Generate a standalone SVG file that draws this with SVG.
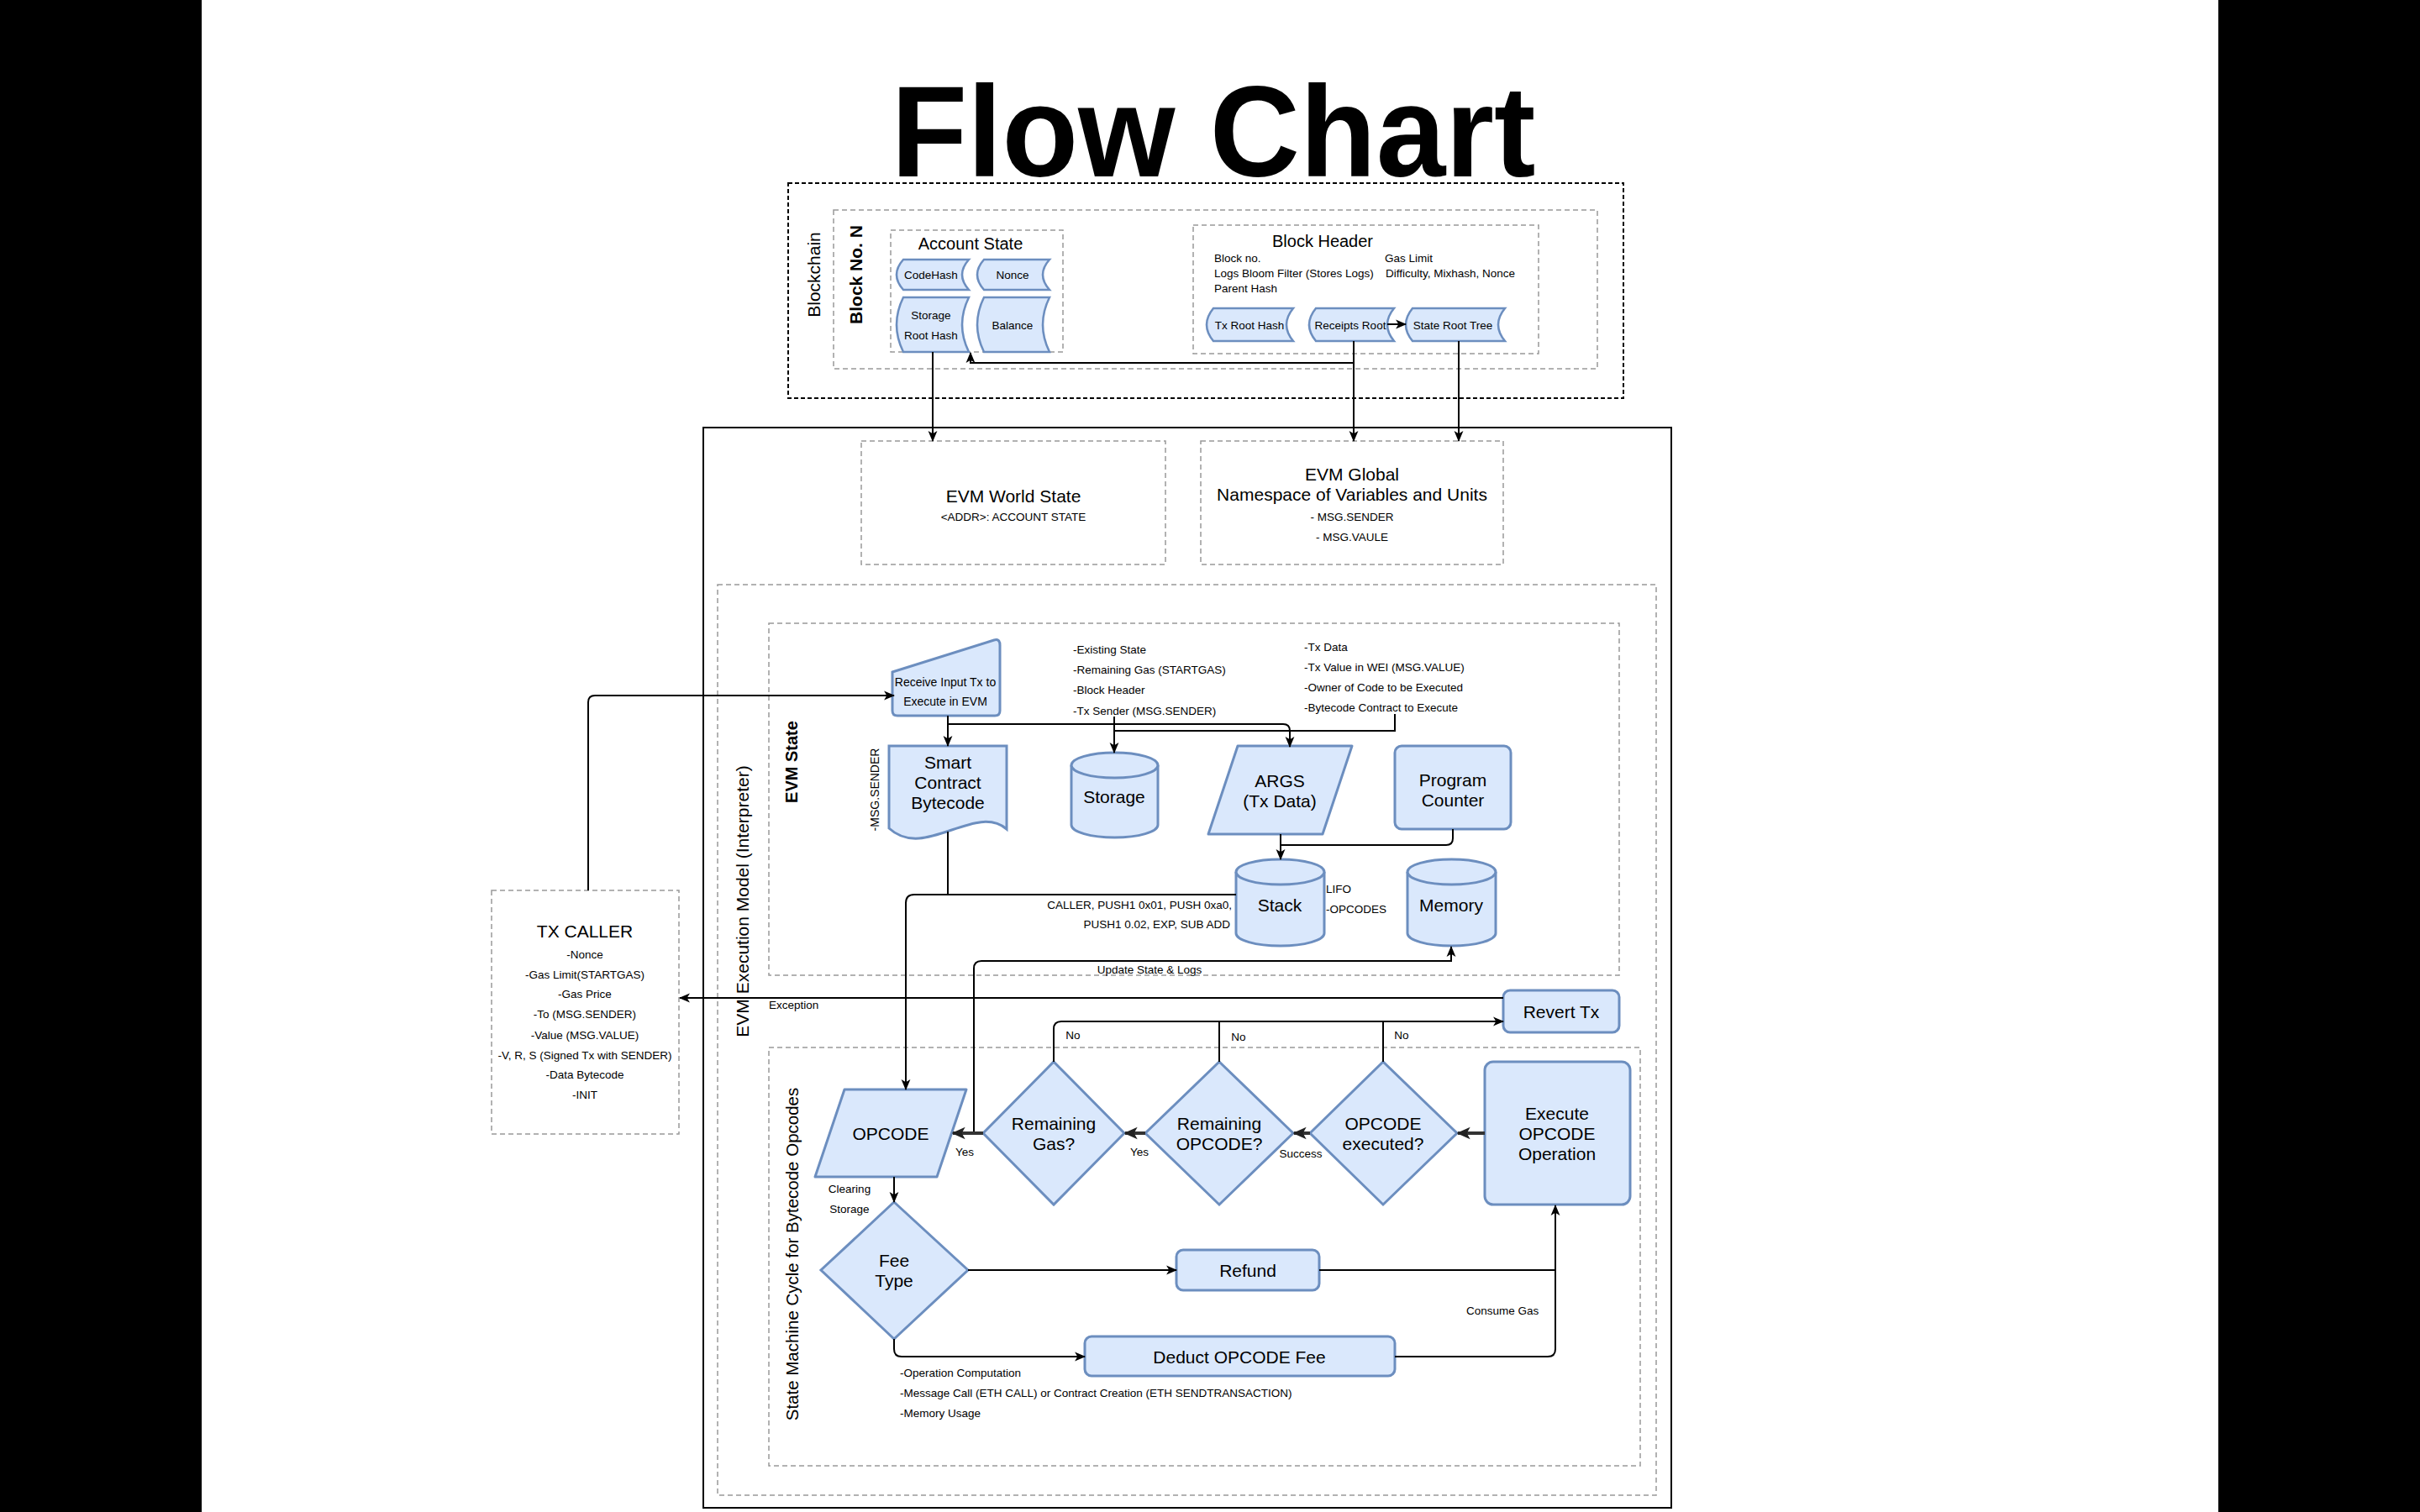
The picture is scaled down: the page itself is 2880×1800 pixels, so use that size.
<svg xmlns="http://www.w3.org/2000/svg" width="2880" height="1800" viewBox="0 0 2880 1800">
<defs>
<style>
.t{font-family:"Liberation Sans",Arial,Helvetica,sans-serif;fill:#000;dominant-baseline:central;text-anchor:middle}
.ts{font-size:13.5px}
.tm{font-size:21px}
.tl{text-anchor:start}
.tr{text-anchor:end}
.node{fill:#dae8fc;stroke:#6c8ebf;stroke-width:3}
.nodes{fill:#dae8fc;stroke:#6c8ebf;stroke-width:2.5}
.grp{fill:none;stroke:#999;stroke-width:1.5;stroke-dasharray:6 4}
.conn{fill:none;stroke:#000;stroke-width:2}
.connT{fill:none;stroke:#333;stroke-width:4}
</style>
<marker id="arr" viewBox="0 0 12 12" refX="11" refY="6" markerWidth="13" markerHeight="13" markerUnits="userSpaceOnUse" orient="auto"><path d="M0,1 L12,6 L0,11 L3,6 Z" fill="#000"/></marker>
<marker id="arrT" viewBox="0 0 12 12" refX="11" refY="6" markerWidth="16" markerHeight="16" markerUnits="userSpaceOnUse" orient="auto"><path d="M0,0.5 L12,6 L0,11.5 L3,6 Z" fill="#222"/></marker>
</defs>
<rect x="0" y="0" width="2880" height="1800" fill="#fff"/>
<rect x="0" y="0" width="240" height="1800" fill="#000"/>
<rect x="2640" y="0" width="240" height="1800" fill="#000"/>

<text class="t" x="1444" y="210" style="font-size:154px;font-weight:bold;dominant-baseline:auto" textLength="767" lengthAdjust="spacingAndGlyphs">Flow Chart</text>

<g id="blockchain">
<rect x="938" y="218" width="994" height="256" fill="none" stroke="#000" stroke-width="2" stroke-dasharray="5 3"/>
<text class="t tm" transform="translate(968,327) rotate(-90)">Blockchain</text>
</g>
<g id="block-no-n">
<rect class="grp" x="992" y="250" width="909" height="189"/>
<text class="t tm" transform="translate(1018,327) rotate(-90)" style="font-weight:bold">Block No. N</text>
</g>
<g id="account-state">
<rect class="grp" x="1060" y="274" width="205" height="145"/>
<text class="t" x="1155" y="290" style="font-size:20px">Account State</text>
</g>
<g id="codehash"><path class="nodes" d="M1075,309 H1153 Q1137,327 1153,345 H1075 Q1059,327 1075,309 Z"/><text class="t ts" x="1108" y="327">CodeHash</text></g>
<g id="nonce"><path class="nodes" d="M1171,309 H1249 Q1233,327 1249,345 H1171 Q1155,327 1171,309 Z"/><text class="t ts" x="1205" y="327">Nonce</text></g>
<g id="storage-root-hash"><path class="nodes" d="M1075,354 H1153 Q1137,386.5 1153,419 H1075 Q1059,386.5 1075,354 Z"/><text class="t ts" x="1108" y="375">Storage</text><text class="t ts" x="1108" y="399">Root Hash</text></g>
<g id="balance"><path class="nodes" d="M1171,354 H1249 Q1233,386.5 1249,419 H1171 Q1155,386.5 1171,354 Z"/><text class="t ts" x="1205" y="387">Balance</text></g>

<g id="block-header">
<rect class="grp" x="1420" y="268" width="411" height="153"/>
<text class="t" x="1574" y="287" style="font-size:20px">Block Header</text>
<text class="t ts tl" x="1445" y="307">Block no.</text>
<text class="t ts tl" x="1648" y="307">Gas Limit</text>
<text class="t ts tl" x="1445" y="325">Logs Bloom Filter (Stores Logs)</text>
<text class="t ts tl" x="1649" y="325">Difficulty, Mixhash, Nonce</text>
<text class="t ts tl" x="1445" y="343">Parent Hash</text>
</g>
<g id="tx-root-hash"><path class="nodes" d="M1444,367 H1539 Q1523,386.5 1539,406 H1444 Q1428,386.5 1444,367 Z"/><text class="t ts" x="1487" y="387">Tx Root Hash</text></g>
<g id="receipts-root"><path class="nodes" d="M1566,367 H1659 Q1643,386.5 1659,406 H1566 Q1550,386.5 1566,367 Z"/><text class="t ts" x="1607" y="387">Receipts Root</text></g>
<g id="state-root-tree"><path class="nodes" d="M1681,367 H1791 Q1775,386.5 1791,406 H1681 Q1665,386.5 1681,367 Z"/><text class="t ts" x="1729" y="387">State Root Tree</text></g>

<g id="evm-execution-model">
<rect x="837" y="509" width="1152" height="1286" fill="none" stroke="#000" stroke-width="2"/>
</g>
<g id="evm-world-state">
<rect class="grp" x="1025" y="525" width="362" height="147"/>
<text class="t tm" x="1206" y="590">EVM World State</text>
<text class="t ts" x="1206" y="615">&lt;ADDR&gt;: ACCOUNT STATE</text>
</g>
<g id="evm-global">
<rect class="grp" x="1429" y="525" width="360" height="147"/>
<text class="t tm" x="1609" y="564">EVM Global</text>
<text class="t tm" x="1609" y="588">Namespace of Variables and Units</text>
<text class="t ts" x="1609" y="615">- MSG.SENDER</text>
<text class="t ts" x="1609" y="639">- MSG.VAULE</text>
</g>
<g id="interpreter">
<rect class="grp" x="854" y="696" width="1117" height="1084"/>
<text class="t tm" transform="translate(883,1073) rotate(-90)">EVM Execution Model (Interpreter)</text>
</g>
<g id="evm-state">
<rect class="grp" x="915" y="742" width="1012" height="419"/>
<text class="t" transform="translate(942,907) rotate(-90)" style="font-size:20px;font-weight:bold">EVM State</text>
</g>
<g id="state-machine">
<rect class="grp" x="915" y="1247" width="1037" height="498"/>
<text class="t" transform="translate(942,1493) rotate(-90)" style="font-size:20.5px">State Machine Cycle for Bytecode Opcodes</text>
</g>

<g id="tx-caller">
<rect class="grp" x="585" y="1060" width="223" height="290"/>
<text class="t tm" x="696" y="1108">TX CALLER</text>
<text class="t ts" x="696" y="1136">-Nonce</text>
<text class="t ts" x="696" y="1160">-Gas Limit(STARTGAS)</text>
<text class="t ts" x="696" y="1183">-Gas Price</text>
<text class="t ts" x="696" y="1207">-To (MSG.SENDER)</text>
<text class="t ts" x="696" y="1232">-Value (MSG.VALUE)</text>
<text class="t ts" x="696" y="1256">-V, R, S (Signed Tx with SENDER)</text>
<text class="t ts" x="696" y="1279">-Data Bytecode</text>
<text class="t ts" x="696" y="1303">-INIT</text>
</g>

<g id="receive-input">
<path class="node" d="M1062,800 L1183,762 Q1190,760 1190,768 V846 Q1190,852 1184,852 H1068 Q1062,852 1062,846 Z"/>
<text class="t" x="1125" y="812" style="font-size:14px">Receive Input Tx to</text>
<text class="t" x="1125" y="835" style="font-size:14px">Execute in EVM</text>
</g>
<g id="existing-state-notes">
<text class="t ts tl" x="1277" y="773">-Existing State</text>
<text class="t ts tl" x="1277" y="797">-Remaining Gas (STARTGAS)</text>
<text class="t ts tl" x="1277" y="821">-Block Header</text>
<text class="t ts tl" x="1277" y="846">-Tx Sender (MSG.SENDER)</text>
</g>
<g id="tx-data-notes">
<text class="t ts tl" x="1552" y="770">-Tx Data</text>
<text class="t ts tl" x="1552" y="794">-Tx Value in WEI (MSG.VALUE)</text>
<text class="t ts tl" x="1552" y="818">-Owner of Code to be Executed</text>
<text class="t ts tl" x="1552" y="842">-Bytecode Contract to Execute</text>
</g>
<g id="smart-contract">
<path class="node" d="M1058,888 H1198 V987 C1160,955 1100,1025 1058,986 Z"/>
<text class="t tm" x="1128" y="907">Smart</text>
<text class="t tm" x="1128" y="931">Contract</text>
<text class="t tm" x="1128" y="955">Bytecode</text>
<text class="t" transform="translate(1041,940) rotate(-90)" style="font-size:14px">-MSG.SENDER</text>
</g>
<g id="storage">
<path class="node" d="M1275,911 A51.5,15 0 0 1 1378,911 V982 A51.5,15 0 0 1 1275,982 Z"/>
<path class="node" d="M1275,911 A51.5,15 0 0 0 1378,911" fill="none"/>
<text class="t tm" x="1326" y="948">Storage</text>
</g>
<g id="args">
<path class="node" d="M1473,888 H1609 L1574,993 H1438 Z" stroke-linejoin="round"/>
<text class="t tm" x="1523" y="929">ARGS</text>
<text class="t tm" x="1523" y="953">(Tx Data)</text>
</g>
<g id="program-counter">
<rect class="node" x="1660" y="888" width="138" height="99" rx="8"/>
<text class="t tm" x="1729" y="928">Program</text>
<text class="t tm" x="1729" y="952">Counter</text>
</g>
<g id="stack">
<path class="node" d="M1471,1038 A52.5,15 0 0 1 1576,1038 V1111 A52.5,15 0 0 1 1471,1111 Z"/>
<path class="node" d="M1471,1038 A52.5,15 0 0 0 1576,1038" fill="none"/>
<text class="t tm" x="1523" y="1077">Stack</text>
<text class="t ts tl" x="1578" y="1058">LIFO</text>
<text class="t ts tl" x="1578" y="1082">-OPCODES</text>
<text class="t ts tr" x="1466" y="1077">CALLER, PUSH1 0x01, PUSH 0xa0,</text>
<text class="t ts tr" x="1464" y="1100">PUSH1 0.02, EXP, SUB ADD</text>
</g>
<g id="memory">
<path class="node" d="M1675,1038 A52.5,15 0 0 1 1780,1038 V1111 A52.5,15 0 0 1 1675,1111 Z"/>
<path class="node" d="M1675,1038 A52.5,15 0 0 0 1780,1038" fill="none"/>
<text class="t tm" x="1727" y="1077">Memory</text>
</g>

<g id="revert-tx">
<rect class="node" x="1789" y="1179" width="138" height="50" rx="8"/>
<text class="t tm" x="1858" y="1204">Revert Tx</text>
</g>
<g id="opcode">
<path class="node" d="M1005,1297 H1150 L1115,1401 H970 Z" stroke-linejoin="round"/>
<text class="t tm" x="1060" y="1349">OPCODE</text>
</g>
<g id="remaining-gas">
<path class="node" d="M1254,1264 L1338,1349 L1254,1434 L1170,1349 Z"/>
<text class="t tm" x="1254" y="1337">Remaining</text>
<text class="t tm" x="1254" y="1361">Gas?</text>
</g>
<g id="remaining-opcode">
<path class="node" d="M1451,1264 L1539,1349 L1451,1434 L1363,1349 Z"/>
<text class="t tm" x="1451" y="1337">Remaining</text>
<text class="t tm" x="1451" y="1361">OPCODE?</text>
</g>
<g id="opcode-executed">
<path class="node" d="M1646,1264 L1734,1349 L1646,1434 L1559,1349 Z"/>
<text class="t tm" x="1646" y="1337">OPCODE</text>
<text class="t tm" x="1646" y="1361">executed?</text>
</g>
<g id="execute-opcode">
<rect class="node" x="1767" y="1264" width="173" height="170" rx="10"/>
<text class="t tm" x="1853" y="1325">Execute</text>
<text class="t tm" x="1853" y="1349">OPCODE</text>
<text class="t tm" x="1853" y="1373">Operation</text>
</g>
<g id="fee-type">
<path class="node" d="M1064,1431 L1152,1512 L1064,1594 L977,1512 Z"/>
<text class="t tm" x="1064" y="1500">Fee</text>
<text class="t tm" x="1064" y="1524">Type</text>
</g>
<g id="refund">
<rect class="node" x="1400" y="1488" width="170" height="48" rx="8"/>
<text class="t tm" x="1485" y="1512">Refund</text>
</g>
<g id="deduct-fee">
<rect class="node" x="1291" y="1591" width="369" height="47" rx="8"/>
<text class="t tm" x="1475" y="1615">Deduct OPCODE Fee</text>
</g>
<g id="fee-notes">
<text class="t ts tl" x="1071" y="1634">-Operation Computation</text>
<text class="t ts tl" x="1071" y="1658">-Message Call (ETH CALL) or Contract Creation (ETH SENDTRANSACTION)</text>
<text class="t ts tl" x="1071" y="1682">-Memory Usage</text>
</g>

<g id="connectors">
<path class="conn" d="M1651,386 H1673" marker-end="url(#arr)"/>
<path class="conn" d="M1611,406 V525" marker-end="url(#arr)"/>
<path class="conn" d="M1611,432 H1155 V420" marker-end="url(#arr)"/>
<path class="conn" d="M1736,406 V525" marker-end="url(#arr)"/>
<path class="conn" d="M1110,419 V525" marker-end="url(#arr)"/>
<path class="conn" d="M700,1060 V836 Q700,828 708,828 H1064" marker-end="url(#arr)"/>
<path class="conn" d="M1128,852 V888" marker-end="url(#arr)"/>
<path class="conn" d="M1128,862 H1527 Q1535,862 1535,870 V889" marker-end="url(#arr)"/>
<path class="conn" d="M1326,853 V896" marker-end="url(#arr)"/>
<path class="conn" d="M1660,850 V870 H1326"/>
<path class="conn" d="M1524,993 V1023" marker-end="url(#arr)"/>
<path class="conn" d="M1729,987 V998 Q1729,1006 1721,1006 H1524"/>
<path class="conn" d="M1128,990 V1065"/>
<path class="conn" d="M1471,1065 H1088 Q1078,1065 1078,1075 V1297" marker-end="url(#arr)"/>
<path class="conn" d="M1159,1349 V1153 Q1159,1144 1168,1144 H1727 V1127" marker-end="url(#arr)"/>
<text class="t ts" x="1368" y="1154">Update State &amp; Logs</text>
<path class="conn" d="M1789,1188 H809" marker-end="url(#arr)"/>
<text class="t ts tl" x="915" y="1196">Exception</text>
<path class="conn" d="M1254,1264 V1225 Q1254,1216 1263,1216 H1789" marker-end="url(#arr)"/>
<path class="conn" d="M1451,1264 V1216"/>
<path class="conn" d="M1646,1264 V1216"/>
<text class="t ts" x="1277" y="1232">No</text>
<text class="t ts" x="1474" y="1234">No</text>
<text class="t ts" x="1668" y="1232">No</text>
<path class="connT" d="M1767,1349 H1735" marker-end="url(#arrT)"/>
<path class="connT" d="M1559,1349 H1540" marker-end="url(#arrT)"/>
<text class="t ts" x="1548" y="1373">Success</text>
<path class="connT" d="M1363,1349 H1339" marker-end="url(#arrT)"/>
<text class="t ts" x="1356" y="1371">Yes</text>
<path class="connT" d="M1170,1349 H1134" marker-end="url(#arrT)"/>
<text class="t ts" x="1148" y="1371">Yes</text>
<path class="conn" d="M1064,1401 V1431" marker-end="url(#arr)"/>
<text class="t ts" x="1011" y="1415">Clearing</text>
<text class="t ts" x="1011" y="1439">Storage</text>
<path class="conn" d="M1152,1512 H1400" marker-end="url(#arr)"/>
<path class="conn" d="M1064,1594 V1606 Q1064,1615 1073,1615 H1291" marker-end="url(#arr)"/>
<path class="conn" d="M1570,1512 H1851"/>
<path class="conn" d="M1660,1615 H1842 Q1851,1615 1851,1606 V1435" marker-end="url(#arr)"/>
<text class="t ts tl" x="1745" y="1560">Consume Gas</text>
</g>
</svg>
